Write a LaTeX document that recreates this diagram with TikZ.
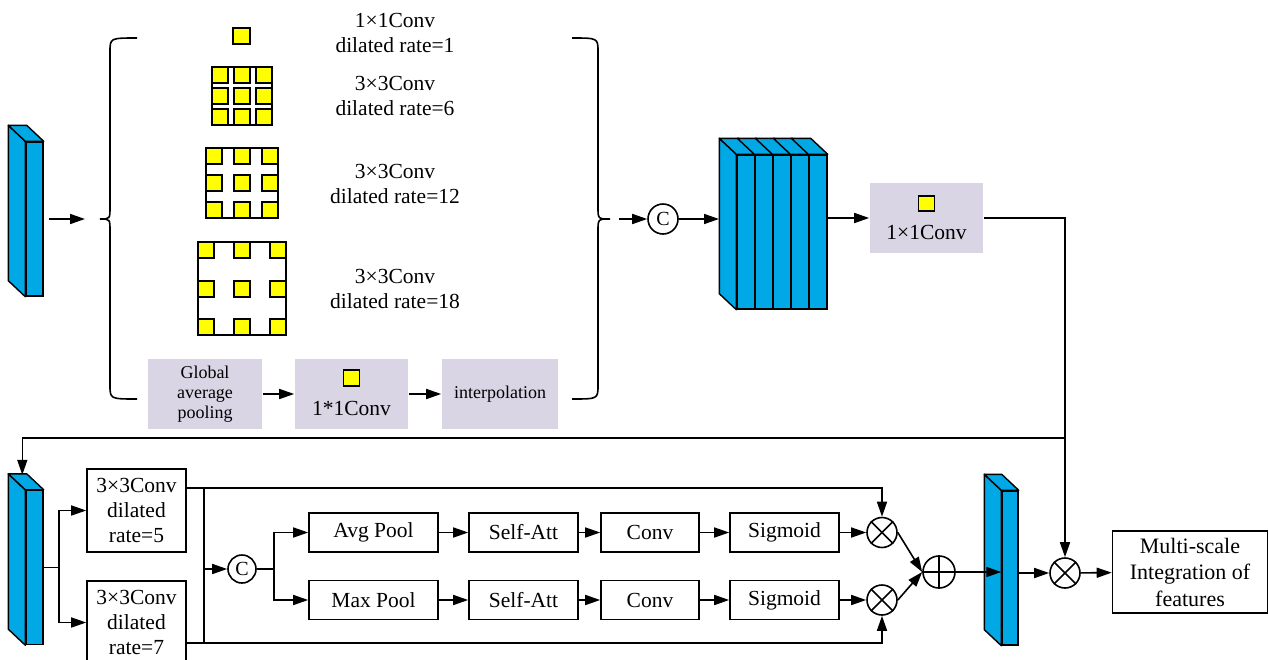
\documentclass[tikz,border=0pt]{standalone}
\usepackage{fontspec}
\setmainfont{Liberation Serif}
\usetikzlibrary{arrows.meta,calc}
\definecolor{fblue}{RGB}{0,169,230}
\definecolor{kyellow}{RGB}{255,255,0}
\definecolor{pgrey}{RGB}{217,213,228}
\newcommand{\mkslabfaces}[1]{%
  \draw[fill=fblue, line width=1.4pt, line join=round] (#1.north west) -- ++(-17,-16) -- ($(#1.south west)+(-17,-16)$) -- (#1.south west) -- cycle;
  \draw[fill=fblue, line width=1.4pt, line join=round] (#1.north west) -- ++(-17,-16) -- ($(#1.north east)+(-17,-16)$) -- (#1.north east) -- cycle;}
\newcommand{\mktopface}[1]{%
  \draw[fill=fblue, line width=1.4pt, line join=round] (#1.north west) -- ++(-17,-16) -- ($(#1.north east)+(-17,-16)$) -- (#1.north east) -- cycle;}
\begin{document}
\begin{tikzpicture}[x=1pt,y=-1pt, line width=1.6pt,
  arr/.style={-{Triangle[length=15pt,width=10pt]}},
  slab/.style={draw, fill=fblue, minimum width=17pt, minimum height=154pt, inner sep=0pt, line width=1.4pt},
  greybox/.style={fill=pgrey, inner sep=0pt},
  wbox/.style={draw, fill=white, inner sep=0pt, font=\fontsize{21.5}{25}\selectfont, align=center},
  lbl/.style={font=\fontsize{21.5}{25}\selectfont, align=center, inner sep=0pt},
  circ/.style={draw, circle, minimum size=30pt, inner sep=0pt, font=\fontsize{20}{20}\selectfont},
  ysq/.style={draw, fill=kyellow, line width=1.2pt}]
\useasboundingbox (0,0) rectangle (1269,659);
\clip (0,0) rectangle (1269,659);

% ---------- top: input slab ----------
\node[slab] (in1) at (34.5,219) {};
\mkslabfaces{in1}
\coordinate (lbrace) at (100,219);
\draw[arr] ([xshift=5pt]in1.east) -- ([xshift=-15pt]lbrace);

% left brace
\draw (137,38) .. controls (110,38) .. (110,52) -- (110,207) .. controls (110,219) .. (lbrace)
      .. controls (110,219) .. (110,231) -- (110,385) .. controls (110,399) .. (137,399);
% right brace
\coordinate (rbrace) at (610,219);
\draw (572,38) .. controls (598,38) .. (598,52) -- (598,207) .. controls (598,219) .. (rbrace)
      .. controls (598,219) .. (598,231) -- (598,385) .. controls (598,399) .. (572,399);

% kernels
\draw[ysq] (233,28) rectangle (250,44);
\draw (212,67) rectangle (272,125);
\foreach \x in {212,234,256}{\foreach \y in {67,88,109}{\draw[ysq] (\x,\y) rectangle ++(16,16);}}
\draw (206,148) rectangle (278,218);
\foreach \x in {206,234,262}{\foreach \y in {148,175,202}{\draw[ysq] (\x,\y) rectangle ++(16,16);}}
\draw (198,242) rectangle (286,335);
\foreach \x in {198,234,270}{\foreach \y in {242,281,319}{\draw[ysq] (\x,\y) rectangle ++(16,16);}}

\node[lbl] (l1) at (395,33) {1×1Conv\\dilated rate=1};
\node[lbl] (l2) at (395,96) {3×3Conv\\dilated rate=6};
\node[lbl] (l3) at (395,184) {3×3Conv\\dilated rate=12};
\node[lbl] (l4) at (395,289) {3×3Conv\\dilated rate=18};

% pooling branch
\node[greybox, minimum width=114pt, minimum height=70pt, font=\fontsize{18}{20}\selectfont, align=center] (gap) at (205,394) {Global\\average\\pooling};
\node[greybox, minimum width=113pt, minimum height=70pt] (c11) at (351.5,394) {};
\draw[ysq] ($(c11)+(-8,-24)$) rectangle ++(16,16);
\node[lbl] (c11t) at ($(c11)+(0,14)$) {1*1Conv};
\node[greybox, minimum width=116pt, minimum height=70pt, font=\fontsize{18}{20}\selectfont] (interp) at (500,394) {interpolation};
\draw[arr] (gap) -- (c11);
\draw[arr] (c11) -- (interp);

% concat
\node[circ] (c1) at (663,219) {C};
\draw[arr] ([xshift=9pt]rbrace) -- (c1);
\foreach \i/\x in {1/746,2/764,3/782,4/800,5/818}{
  \node[slab, minimum width=18pt] (st\i) at (\x,232) {};}
\draw[fill=fblue, line width=1.4pt, line join=round] (st1.north west) -- ++(-17,-16) -- ($(st1.south west)+(-17,-16)$) -- (st1.south west) -- cycle;
\foreach \i in {1,...,5}{\mktopface{st\i}}
\coordinate (stleft) at (719,219);
\draw[arr] (c1) -- (c1 -| stleft);

\node[greybox, minimum width=113pt, minimum height=70pt] (conv1) at (926.5,218) {};
\draw[ysq] ($(conv1)+(-8,-22)$) rectangle ++(16,15);
\node[lbl] (conv1t) at ($(conv1)+(0,14)$) {1×1Conv};
\draw[arr] (st5.east |- conv1) -- (conv1);

% ---------- bottom ----------
\node[slab] (in2) at (34.5,567.5) {};
\mkslabfaces{in2}
\coordinate (j) at (1065,438);
\node[circ] (m3) at (1065,573) {};
\draw (conv1) -| (j);
\draw[arr] (j) -- (m3);
\draw[arr] (j) -| ($(in2.north west)+(-3,-15)$);

\node[wbox, minimum width=99pt, minimum height=83pt] (b5) at (136.5,510.5) {3×3Conv\\dilated\\rate=5};
\node[wbox, minimum width=99pt, minimum height=83pt] (b7) at (136.5,622.5) {3×3Conv\\dilated\\rate=7};
\coordinate (s1) at ($(in2.east)+(15,0)$);
\draw (in2.east) -- (s1);
\draw[arr] (s1) |- (b5);
\draw[arr] (s1) |- (b7);

\node[circ, minimum size=28pt] (c2) at (242,569) {C};
\node[circ] (m1) at (882,532.5) {};
\node[circ] (m2) at (882,600) {};
\coordinate (bus) at ($(b5.north east)+(17,20)$);
\draw[arr] ($(b5.north east)+(0,20)$) -| (m1);
\draw[arr] ($(b7.north east)+(0,63)$) -| (m2);
\draw (bus) -- ($(b7.north east)+(17,63)$);
\draw[arr] (bus |- c2) -- (c2);

\node[wbox, minimum width=129pt, minimum height=39pt] (avg) at (373.5,532.5) {Avg Pool};
\node[wbox, minimum width=129pt, minimum height=39pt] (max) at (373.5,600) {Max Pool};
\node[wbox, minimum width=109pt, minimum height=39pt] (sa1) at (523.5,532.5) {Self-Att};
\node[wbox, minimum width=109pt, minimum height=39pt] (sa2) at (523.5,600) {Self-Att};
\node[wbox, minimum width=98pt, minimum height=39pt] (cv1) at (650,532.5) {Conv};
\node[wbox, minimum width=98pt, minimum height=39pt] (cv2) at (650,600) {Conv};
\node[wbox, minimum width=109pt, minimum height=39pt] (sg1) at (784.5,532.5) {Sigmoid};
\node[wbox, minimum width=109pt, minimum height=39pt] (sg2) at (784.5,600) {Sigmoid};

\coordinate (s2) at ($(c2.east)+(17,0)$);
\draw (c2) -- (s2);
\draw[arr] (s2) |- (avg);
\draw[arr] (s2) |- (max);
\draw[arr] (avg) -- (sa1);
\draw[arr] (sa1) -- (cv1);
\draw[arr] (cv1) -- (sg1);
\draw[arr] (sg1) -- (m1);
\draw[arr] (max) -- (sa2);
\draw[arr] (sa2) -- (cv2);
\draw[arr] (cv2) -- (sg2);
\draw[arr] (sg2) -- (m2);

\node[circ, minimum size=32pt] (plus) at (939,572) {};
\draw[arr] (m1.east) -- (plus.west);
\draw[arr] (m2.east) -- (plus.west);
\foreach \n in {m1,m2,m3}{\draw (\n.north east) -- (\n.south west) (\n.north west) -- (\n.south east);}
\draw (plus.north) -- (plus.south) (plus.west) -- (plus.east);

\node[slab, minimum width=16pt] (out) at (1010,568) {};
\mkslabfaces{out}
\draw[arr] (plus) -- (out.west |- plus);
\draw[arr] (out.east |- m3) -- (m3);

\node[wbox, minimum width=155pt, minimum height=82pt, font=\fontsize{22}{26.5}\selectfont] (res) at (1190,572) {Multi-scale\\Integration of\\features};
\draw[arr] (m3) -- (res);
\end{tikzpicture}
\end{document}
